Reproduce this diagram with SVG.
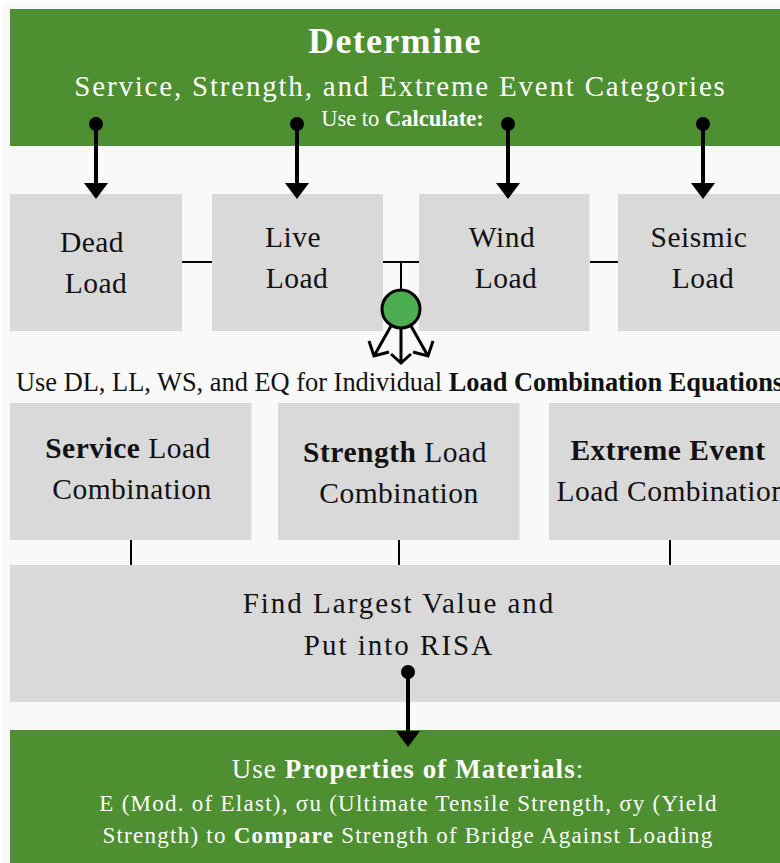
<svg xmlns="http://www.w3.org/2000/svg" width="780" height="863" viewBox="0 0 780 863">
<style>
text{font-family:"Liberation Serif","Times New Roman",serif;text-anchor:middle}
.g{fill:#4e8f31}
.b{fill:#d9d9d9}
.w{fill:#fdfdfd}
.k{fill:#111}
.l{stroke:#000;stroke-width:2;fill:none}
.a{stroke:#000;stroke-width:4;fill:none}
.o{stroke:#000;stroke-width:3;fill:none}
.t{font-size:29.5px;letter-spacing:.5px}
.h{font-weight:bold}
</style>
<defs>
<marker id="ah" markerUnits="userSpaceOnUse" markerWidth="17" markerHeight="24" refX="8" refY="12" orient="auto"><path d="M0 0L16 12L0 24Z" fill="#000"/></marker>
</defs>
<rect width="780" height="863" fill="#fff"/>
<rect x="3" y="3" width="777" height="860" fill="#f9f9f9"/>
<g id="determine"><rect class="g" x="10" y="9" width="770" height="137"/>
<text class="w h" x="395" y="52.500" font-size="36" letter-spacing="1.3">Determine</text>
<text class="w" x="400.500" y="95.500" font-size="29" letter-spacing="1.8">Service, Strength, and Extreme Event Categories</text>
<text class="w" x="402.500" y="125.500" font-size="22.500">Use to <tspan class="h">Calculate:</tspan></text></g>
<g id="dead"><rect class="b" x="10" y="194" width="172" height="137"/><text class="k t" x="92" y="251.500">Dead</text><text class="k t" x="96" y="292.500">Load</text></g>
<g id="live"><rect class="b" x="212" y="194" width="171" height="137"/><text class="k t" x="293" y="246.500">Live</text><text class="k t" x="297" y="287.500">Load</text></g>
<g id="wind"><rect class="b" x="419" y="194" width="170.500" height="137"/><text class="k t" x="502" y="246.500">Wind</text><text class="k t" x="506" y="287.500">Load</text></g>
<g id="seismic"><rect class="b" x="618" y="194" width="162" height="137"/><text class="k t" x="699" y="246.500">Seismic</text><text class="k t" x="703" y="287.500">Load</text></g>
<g id="combo-label"><text class="k" x="16" y="390.500" font-size="26.400" style="text-anchor:start">Use DL, LL, WS, and EQ for Individual <tspan class="h">Load Combination Equations</tspan></text></g>
<g id="service"><rect class="b" x="10" y="403" width="241.500" height="137"/><text class="k t" x="128" y="457.500"><tspan class="h">Service</tspan> Load</text><text class="k t" x="132" y="498.500">Combination</text></g>
<g id="strength"><rect class="b" x="278" y="403" width="241.500" height="137"/><text class="k t" x="395" y="461.500"><tspan class="h">Strength</tspan> Load</text><text class="k t" x="399" y="502.500">Combination</text></g>
<g id="extreme"><rect class="b" x="549" y="403" width="231" height="137"/><text class="k t" x="668" y="459.500"><tspan class="h">Extreme Event</tspan></text><text class="k t" x="671.500" y="500.500">Load Combination</text></g>
<g id="largest"><rect class="b" x="10" y="565" width="770" height="137"/><text class="k" x="399" y="613" font-size="29" letter-spacing="2">Find Largest Value and</text><text class="k" x="399" y="654.500" font-size="29" letter-spacing="2">Put into RISA</text></g>
<g id="materials"><rect class="g" x="10" y="730" width="770" height="133"/>
<text class="w" x="408" y="777.500" font-size="27" letter-spacing="1.07">Use <tspan class="h">Properties of Materials</tspan>:</text>
<text class="w" x="408.500" y="811" font-size="23" letter-spacing="1.26">E (Mod. of Elast), σu (Ultimate Tensile Strength, σy (Yield</text>
<text class="w" x="408" y="843" font-size="23" letter-spacing="1.26">Strength) to <tspan class="h">Compare</tspan> Strength of Bridge Against Loading</text></g>
<g id="connectors">
<path class="l" d="M182 262H212M383 262H419M590 262H618M401 262V292M131 540V565M399 540V565M670 540V565"/>
<circle cx="96" cy="124" r="7"/><circle cx="297" cy="124" r="7"/><circle cx="508" cy="124" r="7"/><circle cx="703" cy="124" r="7"/><circle cx="408" cy="672" r="7"/>
<path class="a" d="M96 124V191" marker-end="url(#ah)"/>
<path class="a" d="M297 124V191" marker-end="url(#ah)"/>
<path class="a" d="M508 124V191" marker-end="url(#ah)"/>
<path class="a" d="M703 124V191" marker-end="url(#ah)"/>
<path class="a" d="M408 672V739" marker-end="url(#ah)"/>
<circle cx="401" cy="309" r="19" fill="#4cae50" stroke="#000" stroke-width="3"/>
<path class="o" d="M391 326L374 356M369 341L374 356L389 352M401 328V363M391 354L401 363L411 354M411 326L428 356M413 352L428 356L433 341"/>
</g>
</svg>
